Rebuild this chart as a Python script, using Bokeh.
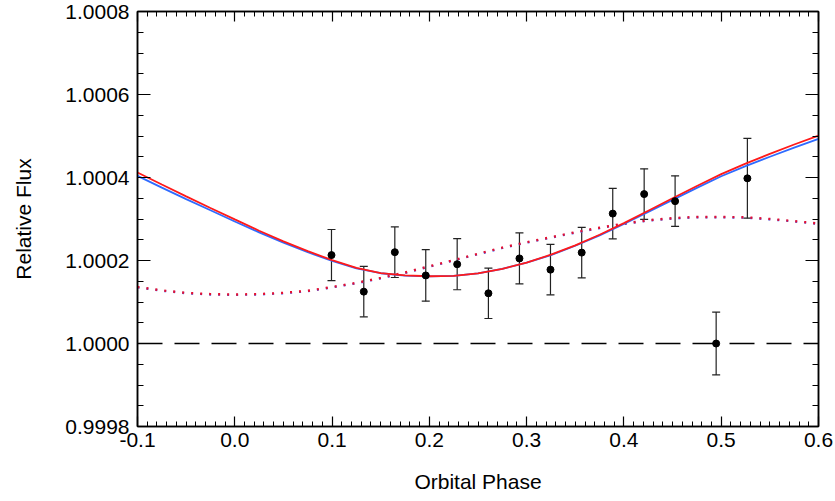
from bokeh.plotting import figure
from bokeh.models import (Range1d, LinearAxis, FixedTicker, PrintfTickFormatter,
                          Whisker, TeeHead, ColumnDataSource, Span)
from bokeh.embed import file_html
from bokeh.resources import INLINE

# ---- data ----
phase_obs = [0.0994, 0.1326, 0.1645, 0.1963, 0.2286, 0.2607, 0.2926,
             0.3245, 0.3566, 0.3885, 0.4208, 0.4526, 0.4948, 0.5269]
flux_obs = [1.000213, 1.000125, 1.000220, 1.000164, 1.000191, 1.000121, 1.000205,
            1.000178, 1.000219, 1.000313, 1.000360, 1.000343, 1.000000, 1.000398]
flux_err = [0.0000617, 0.0000607, 0.0000610, 0.0000620, 0.0000615, 0.0000607, 0.0000615,
            0.0000607, 0.0000610, 0.0000610, 0.0000610, 0.0000610, 0.0000757, 0.0000961]

phase_grid = [-0.100, -0.075, -0.050, -0.025, 0.000, 0.025, 0.050, 0.075, 0.100,
              0.125, 0.150, 0.175, 0.200, 0.225, 0.250, 0.275, 0.300, 0.325,
              0.350, 0.375, 0.400, 0.425, 0.450, 0.475, 0.500, 0.525, 0.550,
              0.575, 0.600]
model_red = [1.0004120, 1.0003830, 1.0003545, 1.0003265, 1.0002990, 1.0002718,
             1.0002462, 1.0002224, 1.0002010, 1.0001820, 1.0001698, 1.0001640,
             1.0001620, 1.0001630, 1.0001690, 1.0001800, 1.0001950, 1.0002140,
             1.0002365, 1.0002620, 1.0002900, 1.0003200, 1.0003500, 1.0003795,
             1.0004080, 1.0004335, 1.0004570, 1.0004795, 1.0005010]
model_blue = [1.0004040, 1.0003755, 1.0003480, 1.0003210, 1.0002940, 1.0002678,
              1.0002432, 1.0002199, 1.0001990, 1.0001810, 1.0001693, 1.0001637,
              1.0001618, 1.0001628, 1.0001688, 1.0001798, 1.0001947, 1.0002130,
              1.0002355, 1.0002605, 1.0002880, 1.0003170, 1.0003460, 1.0003750,
              1.0004030, 1.0004275, 1.0004500, 1.0004720, 1.0004930]
dotted_red = [1.000136, 1.000128, 1.000122, 1.000119, 1.000118, 1.000119, 1.000122,
              1.000127, 1.000136, 1.000146, 1.000158, 1.000171, 1.000186, 1.000201,
              1.000216, 1.000231, 1.000244, 1.000256, 1.000268, 1.000279, 1.000289,
              1.000297, 1.000302, 1.000305, 1.000305, 1.000304, 1.000300, 1.000295,
              1.000289]
dotted_blue = [1.000135, 1.000127, 1.000121, 1.000118, 1.000117, 1.000118, 1.000121,
               1.000126, 1.000135, 1.000145, 1.000157, 1.000170, 1.000185, 1.000200,
               1.000215, 1.000230, 1.000243, 1.000255, 1.000267, 1.000278, 1.000288,
               1.000296, 1.000301, 1.000304, 1.000304, 1.000303, 1.000299, 1.000294,
               1.000288]
baseline = 1.0

x_ticks = [-0.1, 0.0, 0.1, 0.2, 0.3, 0.4, 0.5, 0.6]
y_ticks = [0.9998, 1.0, 1.0002, 1.0004, 1.0006, 1.0008]
x_minor = [round(-0.1 + 0.01 * i, 4) for i in range(71)]
y_minor = [round(0.9998 + 0.00005 * i, 6) for i in range(21)]

FONT = "Liberation Sans"
FS = "21px"

W, H = 834, 500
p = figure(width=W, height=H, output_backend="svg", toolbar_location=None,
           x_range=Range1d(-0.1, 0.6), y_range=Range1d(0.9998, 1.0008),
           min_border_left=137, min_border_right=W - 818, min_border_top=11,
           min_border_bottom=H - 426, x_axis_label="Orbital Phase",
           y_axis_label="Relative Flux")
p.grid.visible = False
p.outline_line_color = "black"
p.outline_line_width = 1.5
p.background_fill_color = "white"
p.border_fill_color = "white"

xt = FixedTicker(ticks=x_ticks, minor_ticks=x_minor)
yt = FixedTicker(ticks=y_ticks, minor_ticks=y_minor)

def style(ax, ticker, fmt, major_len, minor_len, labels=True):
    ax.ticker = ticker
    ax.formatter = PrintfTickFormatter(format=fmt)
    ax.major_tick_in = major_len
    ax.major_tick_out = 0
    ax.minor_tick_in = minor_len
    ax.minor_tick_out = 0
    ax.axis_line_color = "black"
    ax.axis_line_width = 1.5
    ax.major_tick_line_color = "black"
    ax.minor_tick_line_color = "black"
    ax.major_tick_line_width = 1.2
    ax.minor_tick_line_width = 1.0
    ax.major_label_text_font = FONT
    ax.axis_label_text_font = FONT
    ax.axis_label_text_font_size = FS
    ax.axis_label_text_font_style = "normal"
    ax.axis_label_text_color = "black"
    if labels:
        ax.major_label_text_font_size = FS
        ax.major_label_text_color = "black"
    else:
        ax.major_label_text_font_size = "0px"
        ax.major_label_text_color = None
        ax.major_label_standoff = 0

style(p.xaxis[0], xt, "%.1f", 10, 5)
style(p.yaxis[0], yt, "%.4f", 13, 6)
p.xaxis[0].major_label_standoff = 6
p.xaxis[0].axis_label_standoff = 20
p.yaxis[0].major_label_standoff = 8
p.yaxis[0].axis_label_standoff = 27

top = LinearAxis()
right = LinearAxis()
style(top, FixedTicker(ticks=x_ticks, minor_ticks=x_minor), "%.1f", 10, 5, labels=False)
style(right, FixedTicker(ticks=y_ticks, minor_ticks=y_minor), "%.4f", 13, 6, labels=False)
p.add_layout(top, "above")
p.add_layout(right, "right")

# baseline
p.add_layout(Span(location=baseline, dimension="width", line_color="black",
                  line_width=1.5, line_dash="25 12"))

# models
p.line(phase_grid, dotted_blue, line_color="#3a66ff", line_width=2.2, line_dash="2 7")
p.line(phase_grid, dotted_red, line_color="#e8102e", line_width=2.4, line_dash="2 7",
       line_dash_offset=0)
p.line(phase_grid, model_blue, line_color="#2f6bff", line_width=1.8)
p.line(phase_grid, model_red, line_color="#ff1a1a", line_width=1.8)

# observations
src = ColumnDataSource(data=dict(
    x=phase_obs, y=flux_obs,
    lo=[f - e for f, e in zip(flux_obs, flux_err)],
    hi=[f + e for f, e in zip(flux_obs, flux_err)]))
p.add_layout(Whisker(source=src, base="x", lower="lo", upper="hi",
                     line_color="#222222", line_width=1.2,
                     upper_head=TeeHead(size=8, line_color="#222222", line_width=1.2),
                     lower_head=TeeHead(size=8, line_color="#222222", line_width=1.2)))
p.scatter("x", "y", source=src, size=7, color="black")

open("out.html", "w").write(file_html(p, INLINE))
